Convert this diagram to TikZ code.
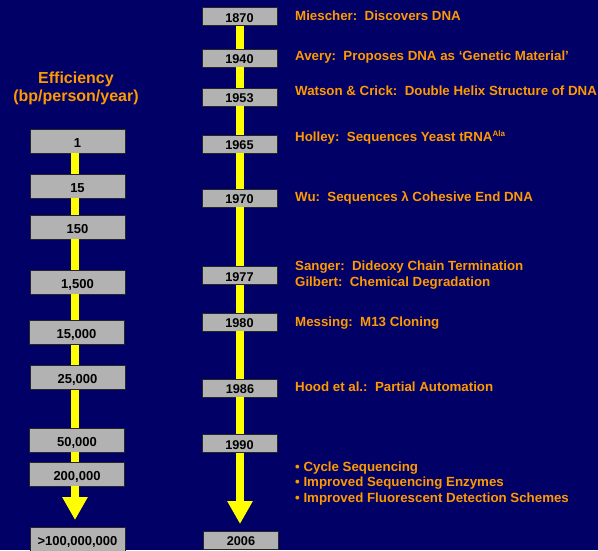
\documentclass[tikz,border=0pt]{standalone}
\usepackage{fontspec}
\setmainfont{Liberation Sans}
\usetikzlibrary{arrows.meta}
\definecolor{bg}{HTML}{000066}
\definecolor{boxgray}{HTML}{B2B2B2}
\definecolor{orng}{HTML}{FF9900}
\definecolor{ylw}{HTML}{FFFF00}
\begin{document}
\begin{tikzpicture}[x=1pt,y=-1pt,
  lbox/.style={draw=black!85, line width=0.8pt, fill=boxgray, minimum width=95pt,
    minimum height=24pt, inner sep=0pt, text=black, text height=12.5pt, text depth=0pt,
    font=\fontsize{13}{13}\selectfont\bfseries},
  rbox/.style={draw=black!85, line width=0.8pt, fill=boxgray, minimum width=75pt,
    minimum height=18pt, inner sep=0pt, text=black, text height=11pt, text depth=0pt,
    font=\fontsize{12.7}{12.7}\selectfont\bfseries},
  lbl/.style={anchor=base west, inner sep=0pt, text=orng,
    font=\fontsize{13.3}{13.3}\selectfont\bfseries},
  ttl/.style={anchor=base, inner sep=0pt, text=orng,
    font=\fontsize{16}{16}\selectfont\bfseries},
  bar/.style={draw=ylw, line width=8pt},
  arr/.style={bar, -{Triangle[width=24pt,length=23pt]}},
]
\useasboundingbox (0,0) rectangle (598,550);
\clip (0,0) rectangle (598,550);
\fill[bg] (0,0) rectangle (598,550);

% title
\node[ttl] (t1) at (76,83) {Efficiency};
\node[ttl] (t2) at (76,101) {(bp/person/year)};

% left column boxes
\node[lbox] (a1) at (77.5,141) {1};
\node[lbox] (a2) at (77.5,186) {15};
\node[lbox] (a3) at (77.5,227) {150};
\node[lbox] (a4) at (77.5,282) {1,500};
\node[lbox] (a5) at (76.5,332.5) {15,000};
\node[lbox] (a6) at (77.5,377.5) {25,000};
\node[lbox] (a7) at (77,440) {50,000};
\node[lbox] (a8) at (77,474) {200,000};
\node[lbox] (a9) at (77.5,539) {>100,000,000};

% right column boxes
\node[rbox] (r1) at (239.5,16.5) {1870};
\node[rbox] (r2) at (239.5,58) {1940};
\node[rbox] (r3) at (239.5,97) {1953};
\node[rbox] (r4) at (239.5,144) {1965};
\node[rbox] (r5) at (239.5,198) {1970};
\node[rbox] (r6) at (239.5,275.5) {1977};
\node[rbox] (r7) at (239.5,322) {1980};
\node[rbox] (r8) at (240,388) {1986};
\node[rbox] (r9) at (239.5,443.5) {1990};
\node[rbox] (r10) at (241,540) {2006};

\coordinate (xl) at (75,0);
\coordinate (xr) at (240,0);
\coordinate (tipL) at (75,520);
\coordinate (tipR) at (240,524);

% left bars
\foreach \u/\v in {a1/a2,a2/a3,a3/a4,a4/a5,a5/a6,a6/a7,a7/a8}{
  \draw[bar] (xl |- \u.south) -- (xl |- \v.north);
}
\draw[arr] (xl |- a8.south) -- (tipL);
% right bars
\foreach \u/\v in {r1/r2,r2/r3,r3/r4,r4/r5,r5/r6,r6/r7,r7/r8,r8/r9}{
  \draw[bar] (xr |- \u.south) -- (xr |- \v.north);
}
\draw[arr] (xr |- r9.south) -- (tipR);

% labels
\node[lbl] (m1) at (295,20) {Miescher:\ \ Discovers DNA};
\node[lbl] (m2) at (295,60) {Avery:\ \ Proposes DNA as ‘Genetic Material’};
\node[lbl] (m3) at (295,95) {Watson \& Crick:\ \ Double Helix Structure of DNA};
\node[lbl] (m4) at (295,141) {Holley:\ \ Sequences Yeast tRNA\raisebox{4.5pt}{\fontsize{8}{8}\selectfont Ala}};
\node[lbl] (m5) at (295,201) {Wu:\ \ Sequences λ Cohesive End DNA};
\node[lbl] (m6) at (295,270) {Sanger:\ \ Dideoxy Chain Termination};
\node[lbl] (m7) at (295,286) {Gilbert:\ \ Chemical Degradation};
\node[lbl] (m8) at (295,326) {Messing:\ \ M13 Cloning};
\node[lbl] (m9) at (295,391) {Hood et al.:\ \ Partial Automation};
\node[lbl] (m10) at (295,471) {• Cycle Sequencing};
\node[lbl] (m11) at (295,486.7) {• Improved Sequencing Enzymes};
\node[lbl] (m12) at (295,502.7) {• Improved Fluorescent Detection Schemes};
\end{tikzpicture}
\end{document}
